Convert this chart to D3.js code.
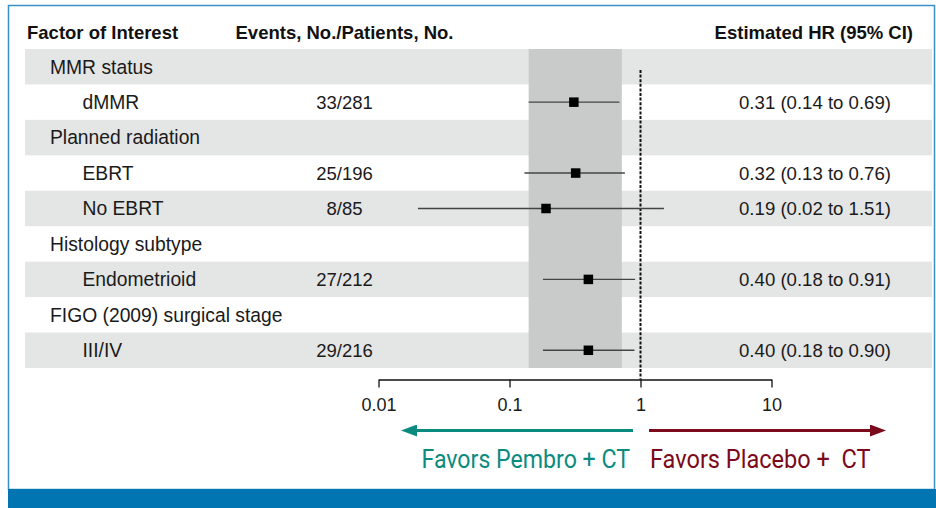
<!DOCTYPE html>
<html>
<head>
<meta charset="utf-8">
<script src="https://cdn.jsdelivr.net/npm/d3@7"></script>
<style>
  html, body { margin: 0; padding: 0; background: #fff; }
  svg { display: block; font-family: "Liberation Sans", Arial, sans-serif; }
</style>
</head>
<body>
<svg id="chart" width="936" height="508"></svg>
<script>
// Subgroup forest plot: hazard ratios with 95% CIs on a log scale
const labels = ["MMR status", "dMMR", "Planned radiation", "EBRT", "No EBRT",
                "Histology subtype", "Endometrioid", "FIGO (2009) surgical stage", "III/IV"];
const levels = [0, 1, 0, 1, 1, 0, 1, 0, 1];
const events = ["", "33/281", "", "25/196", "8/85", "", "27/212", "", "29/216"];
const hr     = [null, 0.31, null, 0.32, 0.19, null, 0.40, null, 0.40];
const ciLow  = [null, 0.14, null, 0.13, 0.02, null, 0.18, null, 0.18];
const ciHigh = [null, 0.69, null, 0.76, 1.51, null, 0.91, null, 0.90];
const overallCI = [0.14, 0.72];
const tickValues = [0.01, 0.1, 1, 10];
const tickLabels = ["0.01", "0.1", "1", "10"];
const headers = ["Factor of Interest", "Events, No./Patients, No.", "Estimated HR (95% CI)"];
const favorLabels = ["Favors Pembro + CT", "Favors Placebo +  CT"];

const svg = d3.select("#chart");
const fmt = d3.format(".2f");

const x = d3.scaleLog().domain([0.01, 10]).range([378.5, 771.5]);
const y = d3.scaleBand().domain(d3.range(labels.length)).range([49, 368]);
const axisY = 379.5;

// frame
svg.append("rect").attr("x", 8.5).attr("y", 5.5).attr("width", 926).attr("height", 484)
  .attr("fill", "none").attr("stroke", "#3b8fcb").attr("stroke-width", 1.5);
svg.append("rect").attr("x", 8).attr("y", 489).attr("width", 928).attr("height", 19)
  .attr("fill", "#0075b1");

// alternating row bands
svg.selectAll("rect.row").data(labels).join("rect")
  .attr("class", "row")
  .attr("x", 25).attr("width", 907)
  .attr("y", (d, i) => y(i)).attr("height", y.bandwidth())
  .attr("fill", (d, i) => i % 2 === 0 ? "#e4e5e5" : "none");

// overall CI shading
svg.append("rect")
  .attr("x", x(overallCI[0])).attr("width", x(overallCI[1]) - x(overallCI[0]))
  .attr("y", y(0)).attr("height", y.range()[1] - y(0))
  .attr("fill", "#c9caca");

// headers
const headY = 39;
const headSize = 18.5;
svg.append("text").attr("x", 27).attr("y", headY).attr("font-weight", "bold")
  .attr("font-size", headSize).attr("fill", "#111").text(headers[0]);
svg.append("text").attr("x", 344.5).attr("y", headY).attr("text-anchor", "middle")
  .attr("font-weight", "bold").attr("font-size", headSize).attr("fill", "#111").text(headers[1]);
svg.append("text").attr("x", 913).attr("y", headY).attr("text-anchor", "end")
  .attr("font-weight", "bold").attr("font-size", headSize).attr("fill", "#111").text(headers[2]);

// row text
const rowMid = i => y(i) + y.bandwidth() / 2;
svg.selectAll("text.lab").data(labels).join("text")
  .attr("class", "lab")
  .attr("x", (d, i) => levels[i] ? 82.5 : 50)
  .attr("y", (d, i) => rowMid(i) + 6.8)
  .attr("font-size", 19.3).attr("fill", "#1a1a1a")
  .text(d => d);
svg.selectAll("text.ev").data(events).join("text")
  .attr("class", "ev")
  .attr("x", 344.5).attr("y", (d, i) => rowMid(i) + 6.6)
  .attr("text-anchor", "middle").attr("font-size", 18.5).attr("fill", "#1a1a1a")
  .text(d => d);
svg.selectAll("text.hr").data(hr).join("text")
  .attr("class", "hr")
  .attr("x", 891).attr("y", (d, i) => rowMid(i) + 6.6)
  .attr("text-anchor", "end").attr("font-size", 18.6).attr("fill", "#1a1a1a")
  .text((d, i) => d == null ? "" : `${fmt(d)} (${fmt(ciLow[i])} to ${fmt(ciHigh[i])})`);

// reference line at HR = 1
svg.append("line").attr("x1", x(1)).attr("x2", x(1)).attr("y1", 70).attr("y2", axisY)
  .attr("stroke", "#111").attr("stroke-width", 2).attr("stroke-dasharray", "3,1.6");

// CIs and point estimates
const idx = d3.range(labels.length).filter(i => hr[i] != null);
svg.selectAll("line.ci").data(idx).join("line")
  .attr("class", "ci")
  .attr("x1", i => x(ciLow[i])).attr("x2", i => x(ciHigh[i]))
  .attr("y1", i => rowMid(i)).attr("y2", i => rowMid(i))
  .attr("stroke", "#444").attr("stroke-width", 1.4);
const sq = 9.5;
svg.selectAll("rect.pt").data(idx).join("rect")
  .attr("class", "pt")
  .attr("x", i => x(hr[i]) - sq / 2).attr("y", i => rowMid(i) - sq / 2)
  .attr("width", sq).attr("height", sq).attr("fill", "#000");

// axis
const axis = d3.axisBottom(x).tickValues(tickValues)
  .tickFormat((d, i) => tickLabels[i]).tickSize(8).tickSizeOuter(0).tickPadding(11);
const g = svg.append("g").attr("transform", `translate(0,${axisY})`).call(axis);
g.select(".domain").attr("stroke", "#111").attr("stroke-width", 1.3);
g.selectAll(".tick line").attr("stroke", "#111").attr("stroke-width", 1.3);
g.selectAll(".tick text").attr("font-size", 18).attr("fill", "#1a1a1a")
  .attr("font-family", "'Liberation Sans', Arial, sans-serif");

// direction arrows
const defs = svg.append("defs");
[["headL", "#0b8b80"], ["headR", "#7a0a1c"]].forEach(([id, c]) => {
  defs.append("marker").attr("id", id).attr("viewBox", "0 0 16 12")
    .attr("refX", 0).attr("refY", 6).attr("markerWidth", 16).attr("markerHeight", 12)
    .attr("markerUnits", "userSpaceOnUse").attr("orient", "auto")
    .append("path").attr("d", "M0,0 L16,6 L0,12 Z").attr("fill", c);
});
const arrowY = 430.5;
svg.append("line").attr("x1", 633).attr("x2", 417).attr("y1", arrowY).attr("y2", arrowY)
  .attr("stroke", "#0b8b80").attr("stroke-width", 3).attr("marker-end", "url(#headL)");
svg.append("line").attr("x1", 649).attr("x2", 870).attr("y1", arrowY).attr("y2", arrowY)
  .attr("stroke", "#7a0a1c").attr("stroke-width", 3).attr("marker-end", "url(#headR)");

svg.append("text").attr("x", 421.5).attr("y", 467.5).attr("font-size", 25)
  .attr("font-family", "'Liberation Sans Narrow', 'Roboto', sans-serif")
  .attr("textLength", 208.5).attr("lengthAdjust", "spacingAndGlyphs")
  .attr("fill", "#0b8b80").text(favorLabels[0]);
svg.append("text").attr("x", 650).attr("y", 467.5).attr("font-size", 25)
  .attr("font-family", "'Liberation Sans Narrow', 'Roboto', sans-serif")
  .attr("textLength", 220.5).attr("lengthAdjust", "spacingAndGlyphs")
  .style("white-space", "pre")
  .attr("fill", "#7a0a1c").text(favorLabels[1]);
</script>
</body>
</html>
